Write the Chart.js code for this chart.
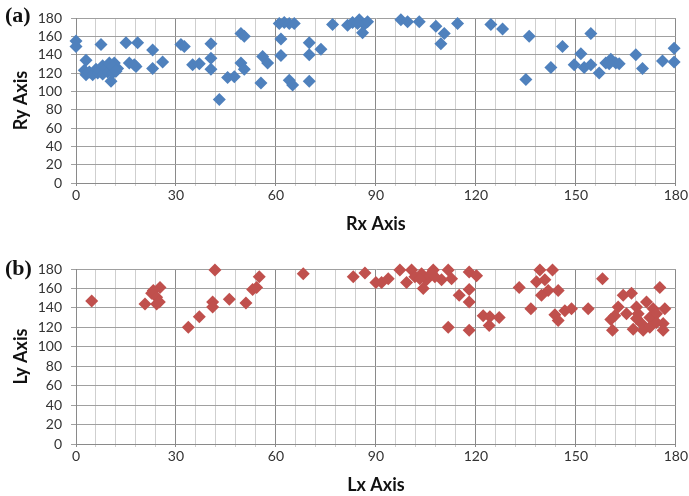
<!DOCTYPE html>
<html>
<head>
<meta charset="utf-8">
<script src="https://cdn.jsdelivr.net/npm/chart.js@4.4.0/dist/chart.umd.min.js"></script>
<style>
  html, body { margin: 0; padding: 0; background: #fff; }
  #wrap { position: relative; width: 689px; height: 496px; overflow: hidden; }
  .panel { position: absolute; left: 0; width: 689px; height: 248px; }
  .tag { position: absolute; left: 5px; font: bold 22px "Liberation Serif", "Times New Roman", serif; color: #111; line-height: 26px; }
</style>
</head>
<body>
<div id="wrap">
  <div class="panel" style="top:0"><canvas id="chart-a" width="689" height="248"></canvas></div>
  <div class="panel" style="top:248px"><canvas id="chart-b" width="689" height="248"></canvas></div>
  <div class="tag" style="top:2px">(a)</div>
  <div class="tag" style="top:255px">(b)</div>
</div>
<script>
(function () {
  'use strict';

  // --- Data ---

  var xMajorTicks = [0, 30, 60, 90, 120, 150, 180];
  var yTicks = [0, 20, 40, 60, 80, 100, 120, 140, 160, 180];

  var rxValues = [0, 0, 3, 2.5, 3, 4, 5, 6, 6.5, 7.5, 7, 8, 8, 9, 9.5, 10.5, 11, 11.5, 10, 12.5, 11, 12,
    15, 18.5, 16, 17.5, 18, 23, 23, 26, 31.5, 32.5, 35, 37, 40.5, 40.5, 40.5, 43, 45.5, 47.5,
    49.5, 50.5, 49.5, 50.5, 55.5, 56, 57.5, 61.5, 61.5, 61, 62.5, 64, 65.5, 64, 65, 70, 70, 70,
    73.5, 77, 81.5, 83, 85, 86.5, 86, 87.5, 84.5, 97.5, 99.5, 103, 108, 110.5, 109.5, 114.5,
    124.5, 128, 136, 135, 142.5, 146, 154.5, 151.5, 149.5, 152.5, 154.5, 157, 159, 160.5, 162,
    163, 160, 168, 170, 176, 179.5, 179.5];
  var ryValues = [155, 149, 134, 123, 118, 121, 118, 124, 120, 151, 123, 128, 119, 125, 121, 111, 120, 131, 131, 125, 127, 122,
    153, 153, 131, 129, 127, 145, 125, 132, 151, 149, 129, 130, 152, 136, 124, 91, 115, 116,
    163, 160, 131, 124, 109, 138, 131, 157, 139, 174, 175, 174, 174, 112, 107, 111, 153, 140,
    146, 173, 172, 175, 178, 173, 164, 176, 174, 178, 176, 176, 171, 163, 152, 174,
    173, 168, 160, 113, 126, 149, 163, 141, 129, 126, 129, 120, 131, 135, 131,
    130, 130, 140, 125, 133, 147, 132];

  var lxValues = [4.7, 20.7, 22.7, 23.2, 24.2, 24.2, 25.2, 25, 33.7, 37, 41, 41, 41.7, 46, 51, 53, 54.2, 55,
    68.2, 83.2, 86.7, 90, 91.7, 93.7, 97.2, 99.2, 100.7, 101.7, 103.7, 104.2, 105.2, 107.2, 109.7,
    111.7, 112.7, 115, 111.7, 118, 118, 118, 118, 120.2, 122.2, 124.2, 127, 124, 133, 136.5, 139.2,
    138.2, 140.7, 143, 141.7, 139.7, 144.7, 143.7, 144.7, 146.7, 148.7, 153.7, 158, 161, 161.7,
    164.2, 166.7, 162.7, 168.2, 169.7, 171.2, 173.2, 175.2, 176.7, 176.2, 176.2, 167.2, 170.2,
    168.2, 165.2, 172.2, 174.2, 168.7, 172.2, 174.2, 160.5, 103.2, 107.7, 106.7];
  var lyValues = [147, 144, 155, 158, 151, 144, 161, 146, 120, 131, 146, 141, 179, 149, 145, 159, 161, 172,
    175, 172, 176, 166, 166, 170, 179, 166, 179, 172, 175, 160, 169, 179, 169,
    179, 170, 153, 120, 177, 159, 146, 117, 173, 132, 131, 130, 122, 161, 139, 179,
    167, 169, 179, 158, 153, 158, 133, 127, 137, 139, 139, 170, 117, 132,
    153, 155, 141, 129, 124, 146, 139, 161, 139, 124, 117, 118, 117,
    141, 134, 130, 134, 134, 120, 125, 128, 170, 172, 176];

  // --- Chart ---

  var tickFont = { family: 'Lato, "Liberation Sans", Arial, sans-serif', size: 14 };
  var titleFont = { family: 'Lato, "Liberation Sans", Arial, sans-serif', size: 18, weight: 'bold' };

  function makeScatter(id, xs, ys, color, o) {
    var points = xs.map(function (x, i) { return { x: x, y: ys[i] }; });
    return new Chart(document.getElementById(id), {
      type: 'scatter',
      data: {
        datasets: [{
          data: points,
          pointStyle: 'rectRot',
          pointRadius: 6.5,
          pointHoverRadius: 6.5,
          backgroundColor: color,
          borderColor: color,
          borderWidth: 0,
          clip: false
        }]
      },
      options: {
        responsive: false,
        animation: false,
        layout: { padding: { top: o.top, right: 13, bottom: o.bottom, left: 0 } },
        plugins: { legend: { display: false }, tooltip: { enabled: false } },
        scales: {
          x: {
            type: 'linear',
            min: xMajorTicks[0],
            max: xMajorTicks[xMajorTicks.length - 1],
            afterFit: function (s) { s.height = 52; },
            border: { color: '#8a8a8a' },
            grid: {
              tickLength: 3,
              color: function (c) {
                return c.tick && xMajorTicks.indexOf(c.tick.value) >= 0 ? '#8a8a8a' : '#cfcfcf';
              }
            },
            ticks: {
              stepSize: 6,
              autoSkip: false,
              maxRotation: 0,
              padding: 1,
              color: '#333',
              font: tickFont,
              callback: function (v) { return xMajorTicks.indexOf(v) >= 0 ? String(v) : ''; }
            },
            title: { display: true, text: o.xTitle, color: '#111', font: titleFont, padding: { top: 0, bottom: 0 } }
          },
          y: {
            min: yTicks[0],
            max: yTicks[yTicks.length - 1],
            afterFit: function (s) { s.width = 76; },
            border: { color: '#8a8a8a' },
            grid: { color: '#a0a0a0', tickLength: 5 },
            ticks: { stepSize: 20, autoSkip: false, padding: 9, color: '#333', font: tickFont },
            title: { display: true, text: o.yTitle, color: '#111', font: titleFont, padding: { top: 10, bottom: 0 } }
          }
        }
      }
    });
  }

  makeScatter('chart-a', rxValues, ryValues, '#4F81BD', { top: 18, bottom: 13, xTitle: 'Rx Axis', yTitle: 'Ry Axis' });
  makeScatter('chart-b', lxValues, lyValues, '#C0504D', { top: 21, bottom: 0, xTitle: 'Lx Axis', yTitle: 'Ly Axis' });
})();
</script>
</body>
</html>
